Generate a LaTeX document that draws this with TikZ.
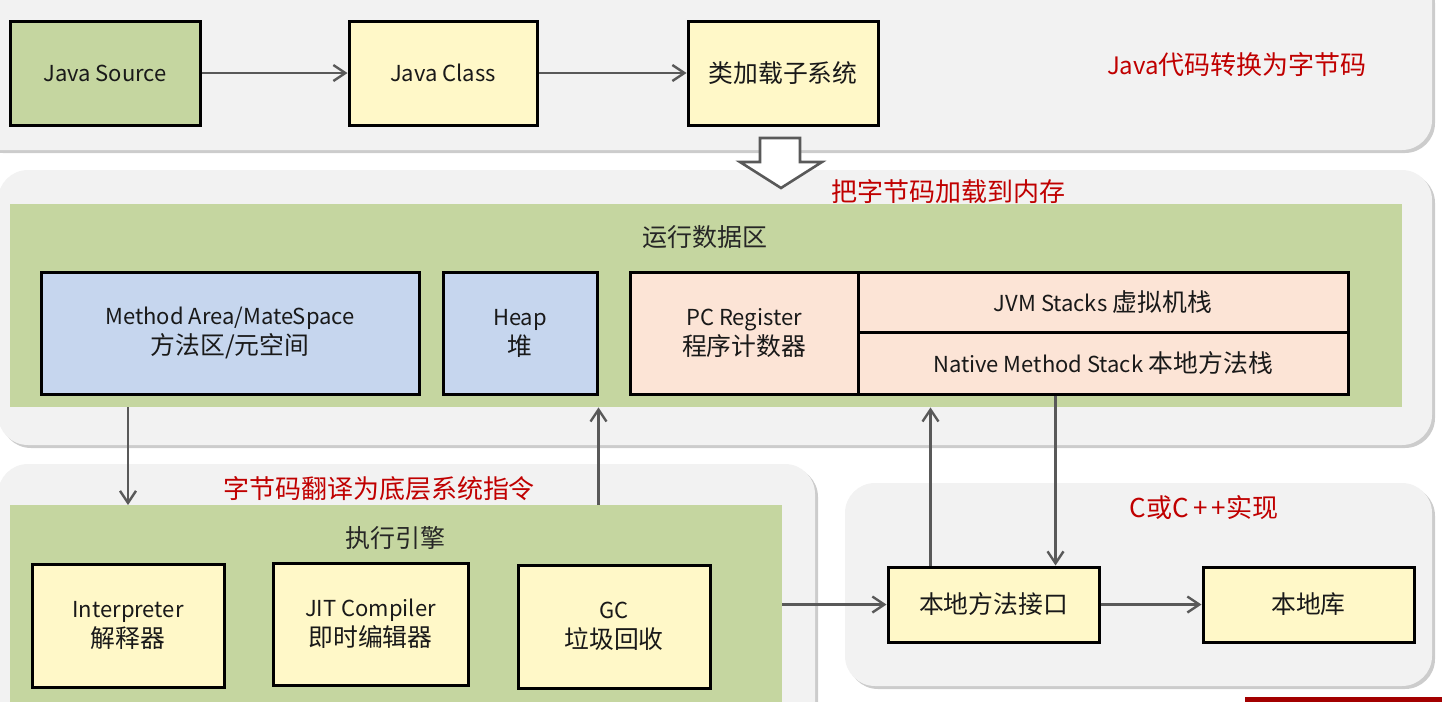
\documentclass[tikz,border=0pt]{standalone}
\usepackage{fontspec}
\setmainfont{Noto Sans CJK SC}
\usetikzlibrary{arrows.meta,shadows}
\definecolor{panelgray}{HTML}{F2F2F2}
\definecolor{areagreen}{HTML}{C5D6A0}
\definecolor{boxyellow}{HTML}{FFF8C8}
\definecolor{boxblue}{HTML}{C6D6EE}
\definecolor{boxpeach}{HTML}{FCE4D6}
\definecolor{arrowgray}{HTML}{595959}
\definecolor{notered}{HTML}{C00000}
% latin words are set a little smaller than the chinese ones
\newcommand{\latn}[1]{{\fontsize{11}{15}\selectfont #1}}

\begin{document}
\begin{tikzpicture}[x=0.5pt,y=-0.5pt,
    panel/.style={fill=panelgray, rounded corners=15pt,
        drop shadow={shadow xshift=1.5pt, shadow yshift=-1.5pt, fill=black!20, opacity=1}},
    area/.style={fill=areagreen, inner sep=0pt},
    box/.style={draw=black, line width=1.5pt, inner sep=0pt, align=center,
        text=black!90, font=\fontsize{12.4}{15}\selectfont},
    flow/.style={draw=arrowgray, line width=1.2pt, -{Straight Barb[length=6pt,width=8pt]}},
    note/.style={text=notered, font=\fontsize{13}{15}\selectfont},
    heading/.style={text=black!85, font=\fontsize{12.5}{15}\selectfont}]
    \useasboundingbox (0,0) rectangle (1442,702);
    \clip (0,0) rectangle (1442,702);
    %\draw[lightgray] (0,0) grid[step=100] (1442,702);

    % panels
    \path[panel] (-30,-30) rectangle (1432,150);
    \path[panel] (-2,170) rectangle (1432,445);
    \path[panel] (-2,464) rectangle (815,760);
    \path[panel] (845,483) rectangle (1432,686);
    \fill[notered!85!black] (1245,697) rectangle (1442,710);

    % Java code to bytecode
    \node[box, fill=areagreen, minimum width=95pt, minimum height=52pt] (src) at (105,73) {\latn{Java Source}};
    \node[box, fill=boxyellow, minimum width=94pt, minimum height=52pt] (cls) at (443,73) {\latn{Java Class}};
    \node[box, fill=boxyellow, minimum width=95pt, minimum height=52pt] (loader) at (783,73) {类加载子系统};
    \draw[flow] (src) -- (cls);
    \draw[flow] (cls) -- (loader);
    \node[note] (javanote) at (1237,65) {{\fontsize{12}{15}\selectfont Java}代码转换为字节码};

    \draw[arrowgray, line width=1.3pt, fill=white, line join=miter]
        (760,138) -- (800,138) -- (800,162) -- (822,162) -- (781,188) -- (740,162) -- (760,162) -- cycle;
    \node[note] (loadnote) at (948,192) {把字节码加载到内存};

    % runtime data area
    \node[area, minimum width=696pt, minimum height=101.5pt] (rda) at (706,305.5) {};
    \node[heading] (rdatitle) at (705,237) {运行数据区};
    \node[box, fill=boxblue, minimum width=189pt, minimum height=61pt] (method) at (230,333)
        {\latn{Method Area/MateSpace}\\方法区/元空间};
    \node[box, fill=boxblue, minimum width=77pt, minimum height=61pt] (heap) at (520,333) {\latn{Heap}\\堆};
    \node[box, fill=boxpeach, minimum width=114pt, minimum height=61pt] (pc) at (744,333)
        {\latn{PC Register}\\程序计数器};
    \node[box, fill=boxpeach, minimum width=245pt, minimum height=30pt] (jvmstk) at (1103,302)
        {\latn{JVM Stacks} 虚拟机栈};
    \node[box, fill=boxpeach, minimum width=245pt, minimum height=31pt] (natstk) at (1103,363)
        {\latn{Native Method Stack} 本地方法栈};

    % execution engine
    \node[area, minimum width=386pt, minimum height=100pt] (engine) at (396,505) [anchor=north] {};
    \node[note] (enginenote) at (379,489) {字节码翻译为底层系统指令};
    \node[heading] (enginetitle) at (395,538) {执行引擎};
    \node[box, fill=boxyellow, minimum width=96pt, minimum height=61.5pt] (interp) at (128,625.5)
        {\latn{Interpreter}\\解释器};
    \node[box, fill=boxyellow, minimum width=97.5pt, minimum height=61pt] (jit) at (370.5,624)
        {\latn{JIT Compiler}\\即时编辑器};
    \node[box, fill=boxyellow, minimum width=96pt, minimum height=61.5pt] (gc) at (614,626.5)
        {\latn{GC}\\垃圾回收};
    \draw[flow] (rda.south -| interp) -- (engine.north -| interp);
    \draw[flow] (engine.north -| heap.east) -- (rda.south -| heap.east);

    % native side
    \node[note] (cppnote) at (1204,508) {C或C\,+\,+实现};
    \node[box, fill=boxyellow, minimum width=105.5pt, minimum height=37.5pt] (jni) at (993.5,604.5)
        {本地方法接口};
    \node[box, fill=boxyellow, minimum width=105.5pt, minimum height=37.5pt] (natlib) at (1308.5,604.5)
        {本地库};
    \draw[flow] (engine.east |- jni.west) -- (jni.west);
    \draw[flow] (jni) -- (natlib);
    \draw[flow] ([xshift=22pt]jni.north west) -- ([xshift=22pt]jni.north west |- rda.south);
    \draw[flow] ([xshift=-22.5pt]jni.north east |- natstk.south) -- ([xshift=-22.5pt]jni.north east);
\end{tikzpicture}
\end{document}
